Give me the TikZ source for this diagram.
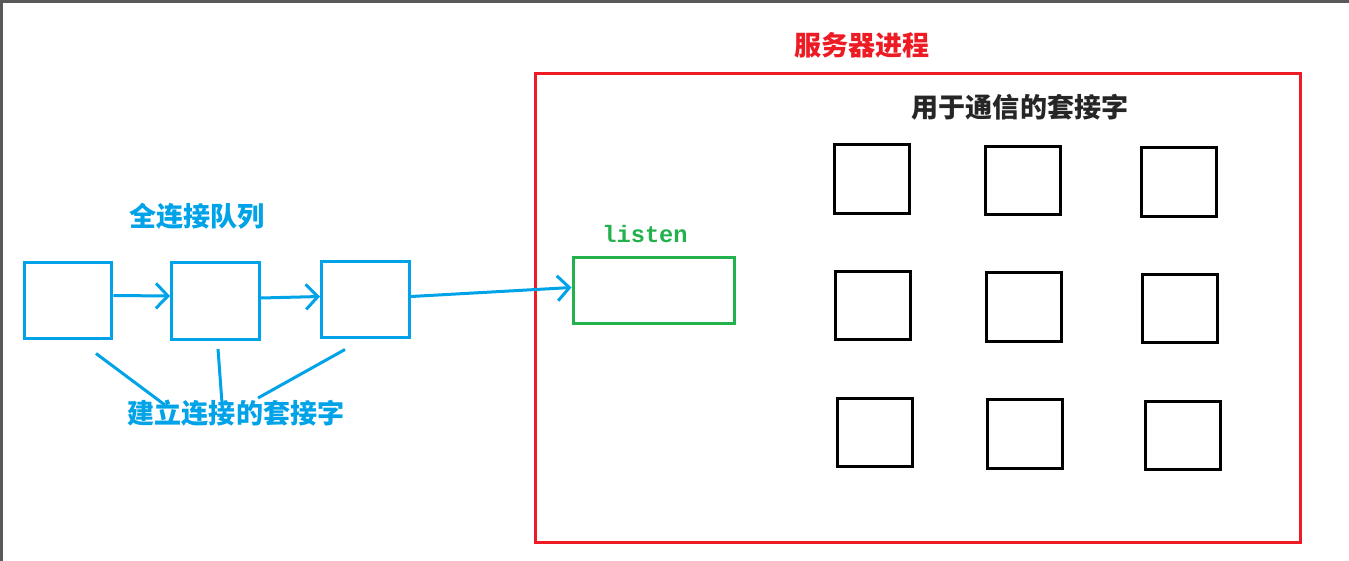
\documentclass[tikz,border=0pt]{standalone}
\usepackage{fontspec}
\newfontfamily\cjk{Noto Sans CJK SC}
\newfontfamily\monofont{Liberation Mono}
\usetikzlibrary{arrows.meta}
\definecolor{paintblue}{RGB}{0,162,232}
\definecolor{paintred}{RGB}{237,28,36}
\definecolor{paintgreen}{RGB}{34,177,76}

\begin{document}
\begin{tikzpicture}[x=0.02cm, y=-0.02cm,
        qbox/.style={draw=paintblue, line width=0.06cm, minimum width=1.76cm, minimum height=1.54cm, inner sep=0pt},
        sbox/.style={draw=black, line width=0.06cm, minimum width=1.5cm, minimum height=1.38cm, inner sep=0pt},
        qline/.style={paintblue, line width=0.06cm},
        qarrow/.style={qline, -{Straight Barb[length=2.4mm, width=5mm]}},
        cjktext/.style={font=\cjk\bfseries\fontsize{15.4}{18}\selectfont, inner sep=0pt}]
        \useasboundingbox (0,0) rectangle (1349,561);

        % Rahmen oben und links
        \draw[black!65, line width=0.06cm] (1.5,561) -- (1.5,1.5) -- (1349,1.5);

        % Serverprozess
        \node[draw=paintred, line width=0.06cm, minimum width=15.32cm, minimum height=9.4cm] (server) at (918,308) {};
        \node[cjktext, text=paintred] (servertitle) at (862,45) {服务器进程};
        \node[cjktext, text=black!85] (commtitle) at (1020,107) {用于通信的套接字};

        % Kommunikations-Sockets
        \foreach \name/\x/\y in {s11/871.5/179, s12/1022.5/180.5, s13/1179/182,
                                 s21/872.5/305.5, s22/1023.5/307, s23/1180/308.5,
                                 s31/874.5/432.5, s32/1024.5/434, s33/1182.5/435.5}
            \node[sbox] (\name) at (\x,\y) {};

        % listen
        \node[draw=paintgreen, line width=0.06cm, minimum width=3.24cm, minimum height=1.34cm] (listen) at (654,290.5) {};
        \node[text=paintgreen, font=\monofont\bfseries\fontsize{13.5}{16}\selectfont, inner sep=0pt] (listenlabel) at (645,234) {listen};

        % Warteschlange
        \node[cjktext, text=paintblue] (queuetitle) at (197,216) {全连接队列};
        \node[qbox] (q1) at (68,300.5) {};
        \node[qbox] (q2) at (215.5,301) {};
        \node[qbox] (q3) at (365.5,299.5) {};

        \draw[qarrow] ([yshift=1mm]q1.east) -- ([yshift=1mm]q2.west);
        \draw[qarrow] ([yshift=0.6mm]q2.east) -- ([yshift=0.6mm]q3.west);
        \draw[qarrow] ([yshift=0.6mm]q3.east) -- ([yshift=0.6mm]listen.west);

        % Beschriftung unten
        \node[cjktext, text=paintblue] (sock) at (236,413) {建立连接的套接字};
        \draw[qline] ([xshift=0.56cm, yshift=-0.26cm]q1.south) -- ([xshift=-1.42cm, yshift=0.16cm]sock.center);
        \draw[qline] ([xshift=0.05cm, yshift=-0.16cm]q2.south) -- ([xshift=-0.28cm, yshift=0.2cm]sock.center);
        \draw[qline] ([xshift=-0.41cm, yshift=-0.2cm]q3.south) -- ([xshift=0.44cm, yshift=0.3cm]sock.center);
    \end{tikzpicture}
\end{document}
